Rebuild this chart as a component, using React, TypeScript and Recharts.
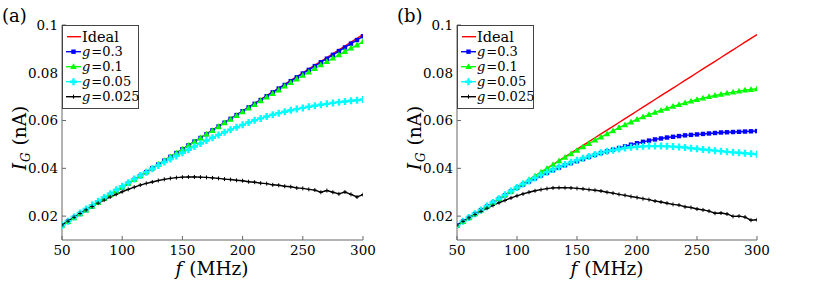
import React from 'react';
import { LineChart, Line, XAxis, YAxis } from 'recharts';

const FONT = "'DejaVu Serif', serif";
const AXIS = '#666';

// frequency grid (MHz)
const freq = [50, 55, 60, 65, 70, 75, 80, 85, 90, 95, 100, 105, 110, 115, 120, 125, 130, 135, 140, 145, 150, 155, 160, 165, 170, 175, 180, 185, 190, 195, 200, 205, 210, 215, 220, 225, 230, 235, 240, 245, 250, 255, 260, 265, 270, 275, 280, 285, 290, 295, 300];

const xTicks = [50, 100, 150, 200, 250, 300];
const yTicks = [0.02, 0.04, 0.06, 0.08, 0.1];

// ideal current (nA), same in both panels
const ideal = [0.0160, 0.0176, 0.0192, 0.0208, 0.0224, 0.0240, 0.0256, 0.0272, 0.0288, 0.0304, 0.0320, 0.0336, 0.0352, 0.0368, 0.0384, 0.0400, 0.0416, 0.0432, 0.0448, 0.0464, 0.0480, 0.0496, 0.0512, 0.0528, 0.0544, 0.0560, 0.0576, 0.0592, 0.0608, 0.0624, 0.0640, 0.0656, 0.0672, 0.0688, 0.0704, 0.0720, 0.0736, 0.0752, 0.0768, 0.0784, 0.0800, 0.0816, 0.0832, 0.0848, 0.0864, 0.0880, 0.0896, 0.0912, 0.0928, 0.0944, 0.0960];

// panel (a)
const aG03 = [0.0161, 0.0177, 0.0193, 0.0209, 0.0225, 0.0241, 0.0257, 0.0273, 0.0289, 0.0305, 0.0320, 0.0336, 0.0352, 0.0368, 0.0384, 0.0400, 0.0416, 0.0432, 0.0448, 0.0464, 0.0480, 0.0496, 0.0512, 0.0527, 0.0543, 0.0559, 0.0575, 0.0591, 0.0607, 0.0623, 0.0639, 0.0655, 0.0670, 0.0686, 0.0702, 0.0718, 0.0734, 0.0749, 0.0765, 0.0781, 0.0797, 0.0812, 0.0828, 0.0844, 0.0859, 0.0875, 0.0891, 0.0906, 0.0922, 0.0937, 0.0953];
const aG01 = [0.0161, 0.0177, 0.0193, 0.0209, 0.0225, 0.0241, 0.0257, 0.0273, 0.0289, 0.0305, 0.0321, 0.0337, 0.0353, 0.0369, 0.0385, 0.0401, 0.0417, 0.0432, 0.0448, 0.0464, 0.0480, 0.0496, 0.0511, 0.0527, 0.0543, 0.0558, 0.0574, 0.0590, 0.0605, 0.0621, 0.0636, 0.0652, 0.0667, 0.0683, 0.0698, 0.0713, 0.0728, 0.0744, 0.0759, 0.0774, 0.0789, 0.0803, 0.0818, 0.0833, 0.0847, 0.0861, 0.0875, 0.0889, 0.0903, 0.0916, 0.0930];
const aG005 = [0.0162, 0.0179, 0.0196, 0.0213, 0.0230, 0.0246, 0.0262, 0.0278, 0.0294, 0.0310, 0.0325, 0.0340, 0.0355, 0.0370, 0.0384, 0.0398, 0.0412, 0.0426, 0.0439, 0.0452, 0.0465, 0.0478, 0.0491, 0.0504, 0.0516, 0.0528, 0.0540, 0.0551, 0.0562, 0.0572, 0.0582, 0.0592, 0.0601, 0.0609, 0.0617, 0.0624, 0.0631, 0.0637, 0.0643, 0.0648, 0.0653, 0.0658, 0.0662, 0.0666, 0.0670, 0.0674, 0.0677, 0.0680, 0.0683, 0.0685, 0.0688];
const aG0025 = [0.0163, 0.0179, 0.0195, 0.0211, 0.0226, 0.0240, 0.0254, 0.0267, 0.0280, 0.0291, 0.0302, 0.0312, 0.0321, 0.0330, 0.0337, 0.0343, 0.0349, 0.0354, 0.0358, 0.0361, 0.0363, 0.0364, 0.0364, 0.0363, 0.0362, 0.0360, 0.0358, 0.0355, 0.0353, 0.0350, 0.0348, 0.0344, 0.0342, 0.0338, 0.0336, 0.0331, 0.0329, 0.0325, 0.0323, 0.0318, 0.0316, 0.0312, 0.0309, 0.0300, 0.0307, 0.0300, 0.0293, 0.0301, 0.0291, 0.0280, 0.0290];

// panel (b)
const bG03 = [0.0161, 0.0177, 0.0193, 0.0209, 0.0225, 0.0240, 0.0256, 0.0272, 0.0287, 0.0303, 0.0318, 0.0332, 0.0345, 0.0358, 0.0370, 0.0381, 0.0392, 0.0403, 0.0413, 0.0422, 0.0430, 0.0439, 0.0448, 0.0456, 0.0464, 0.0471, 0.0478, 0.0485, 0.0492, 0.0499, 0.0505, 0.0511, 0.0516, 0.0521, 0.0525, 0.0529, 0.0532, 0.0535, 0.0538, 0.0540, 0.0542, 0.0544, 0.0546, 0.0548, 0.0550, 0.0551, 0.0552, 0.0553, 0.0554, 0.0555, 0.0556];
const bG01 = [0.0161, 0.0177, 0.0193, 0.0209, 0.0225, 0.0241, 0.0257, 0.0273, 0.0289, 0.0305, 0.0321, 0.0337, 0.0353, 0.0368, 0.0384, 0.0400, 0.0415, 0.0431, 0.0446, 0.0461, 0.0475, 0.0490, 0.0504, 0.0518, 0.0531, 0.0544, 0.0557, 0.0570, 0.0582, 0.0594, 0.0605, 0.0615, 0.0625, 0.0634, 0.0643, 0.0651, 0.0659, 0.0667, 0.0674, 0.0681, 0.0688, 0.0694, 0.0700, 0.0705, 0.0710, 0.0715, 0.0719, 0.0723, 0.0727, 0.0730, 0.0733];
const bG005 = [0.0162, 0.0178, 0.0194, 0.0210, 0.0226, 0.0242, 0.0257, 0.0273, 0.0289, 0.0305, 0.0320, 0.0334, 0.0347, 0.0360, 0.0372, 0.0384, 0.0395, 0.0406, 0.0416, 0.0425, 0.0434, 0.0442, 0.0450, 0.0458, 0.0465, 0.0471, 0.0476, 0.0481, 0.0485, 0.0488, 0.0490, 0.0492, 0.0493, 0.0493, 0.0493, 0.0492, 0.0491, 0.0489, 0.0487, 0.0484, 0.0482, 0.0479, 0.0477, 0.0474, 0.0472, 0.0469, 0.0467, 0.0465, 0.0463, 0.0461, 0.0459];
const bG0025 = [0.0163, 0.0178, 0.0193, 0.0207, 0.0220, 0.0233, 0.0245, 0.0256, 0.0266, 0.0276, 0.0285, 0.0293, 0.0300, 0.0306, 0.0311, 0.0315, 0.0318, 0.0319, 0.0319, 0.0318, 0.0316, 0.0314, 0.0311, 0.0308, 0.0305, 0.0300, 0.0296, 0.0291, 0.0287, 0.0282, 0.0278, 0.0273, 0.0269, 0.0263, 0.0259, 0.0254, 0.0249, 0.0246, 0.0239, 0.0236, 0.0230, 0.0226, 0.0221, 0.0212, 0.0213, 0.0209, 0.0199, 0.0200, 0.0196, 0.0183, 0.0185];

const makeRows = (g03: number[], g01: number[], g005: number[], g0025: number[]) =>
  freq.map((f, i) => ({ f, ideal: ideal[i], g03: g03[i], g01: g01[i], g005: g005[i], g0025: g0025[i] }));

const rowsA = makeRows(aG03, aG01, aG005, aG0025);
const rowsB = makeRows(bG03, bG01, bG005, bG0025);

// markers
const Square = ({ cx, cy }: any) => <rect x={cx - 2.2} y={cy - 2.2} width={4.4} height={4.4} fill="#0000ff" />;
const Tri = ({ cx, cy }: any) => (
  <polygon points={`${cx},${cy - 3.4} ${cx - 3.2},${cy + 2.4} ${cx + 3.2},${cy + 2.4}`} fill="#00ff00" />
);
const CyanPlus = ({ cx, cy }: any) => (
  <path d={`M${cx - 3.5},${cy}H${cx + 3.5}M${cx},${cy - 3.5}V${cy + 3.5}`} stroke="#00ffff" strokeWidth={2.4} />
);
const BlackPlus = ({ cx, cy }: any) => (
  <path d={`M${cx - 2},${cy}H${cx + 2}M${cx},${cy - 2}V${cy + 2}`} stroke="#000" strokeWidth={1} />
);

const series = [
  { key: 'g03', label: '0.3', color: '#0000ff', M: Square },
  { key: 'g01', label: '0.1', color: '#00ff00', M: Tri },
  { key: 'g005', label: '0.05', color: '#00ffff', M: CyanPlus },
  { key: 'g0025', label: '0.025', color: '#000000', M: BlackPlus },
];

const tickStyle = { fill: '#000', fontSize: 13.5, fontFamily: FONT };

const Panel = ({ rows, left, right }: { rows: any[]; left: number; right: number }) => (
  <div style={{ position: 'absolute', left, top: 0 }}>
    <LineChart width={400} height={285} data={rows} margin={{ top: 25, right, bottom: 0, left: 0 }}>
      <XAxis dataKey="f" type="number" domain={[50, 300]} ticks={xTicks} allowDataOverflow
        height={45} tickSize={-4} tickMargin={9} stroke={AXIS} tick={tickStyle} />
      <XAxis xAxisId="top" orientation="top" type="number" domain={[50, 300]} ticks={xTicks} allowDataOverflow
        height={0} tickSize={-4} tick={false} stroke={AXIS} />
      <YAxis type="number" domain={[0.01, 0.1]} ticks={yTicks} allowDataOverflow width={62}
        tickSize={-4} tickMargin={8} stroke={AXIS} tick={tickStyle} tickFormatter={(v: number) => String(v)} />
      <YAxis yAxisId="right" orientation="right" type="number" domain={[0.01, 0.1]} ticks={yTicks} allowDataOverflow
        width={0} tickSize={-4} tick={false} stroke={AXIS} />
      <Line dataKey="ideal" stroke="#ff0000" strokeWidth={1.4} dot={false} isAnimationActive={false} />
      {series.map((s) => (
        <Line key={s.key} dataKey={s.key} stroke={s.color} strokeWidth={1.4} isAnimationActive={false}
          dot={(p: any) => <s.M key={`${s.key}-${p.index}`} cx={p.cx} cy={p.cy} />} />
      ))}
    </LineChart>
  </div>
);

const LegendBox = ({ x, y }: { x: number; y: number }) => (
  <g transform={`translate(${x},${y})`}>
    <rect x={0.5} y={0.5} width={76} height={83} fill="#fff" stroke="#444" strokeWidth={1} />
    <line x1={5} x2={19} y1={11.7} y2={11.7} stroke="#ff0000" strokeWidth={1.4} />
    <text x={20} y={17} fontSize={14.5} fontFamily={FONT}>Ideal</text>
    {series.map((s, i) => {
      const ly = 26.7 + i * 15;
      return (
        <g key={s.key}>
          <line x1={4} x2={19} y1={ly} y2={ly} stroke={s.color} strokeWidth={1.4} />
          <s.M cx={11.5} cy={ly} />
          <text x={20} y={ly + 4.5} fontSize={13} fontFamily={FONT}>
            <tspan fontStyle="italic">g</tspan>
            <tspan dx={1}>{`=${s.label}`}</tspan>
          </text>
        </g>
      );
    })}
  </g>
);

const Titles = ({ px, cx }: { px: number; cx: number }) => (
  <g fill="#000" fontFamily={FONT}>
    <text x={cx} y={275} fontSize={18.5} textAnchor="middle">
      <tspan fontStyle="italic">f</tspan>
      <tspan dx={7}>(MHz)</tspan>
    </text>
    <text transform={`translate(${px + 26},138) rotate(-90)`} fontSize={18.5} textAnchor="middle">
      <tspan fontStyle="italic">I</tspan>
      <tspan fontSize={12} fontStyle="italic" dy={4} dx={1}>G</tspan>
      <tspan dy={-4} dx={7}>(nA)</tspan>
    </text>
  </g>
);

export default function App() {
  return (
    <div style={{ position: 'absolute', left: 0, top: 0, width: 817, height: 285, background: '#fff' }}>
      <Panel rows={rowsA} left={0} right={37} />
      <Panel rows={rowsB} left={395} right={38} />
      <svg width={817} height={285} style={{ position: 'absolute', left: 0, top: 0, pointerEvents: 'none' }}>
        <text x={2} y={22} fontSize={18} fontFamily={FONT}>(a)</text>
        <text x={397} y={22} fontSize={18} fontFamily={FONT}>(b)</text>
        <Titles px={0} cx={212} />
        <Titles px={395} cx={607} />
        <LegendBox x={62} y={25} />
        <LegendBox x={457} y={25} />
      </svg>
    </div>
  );
}
